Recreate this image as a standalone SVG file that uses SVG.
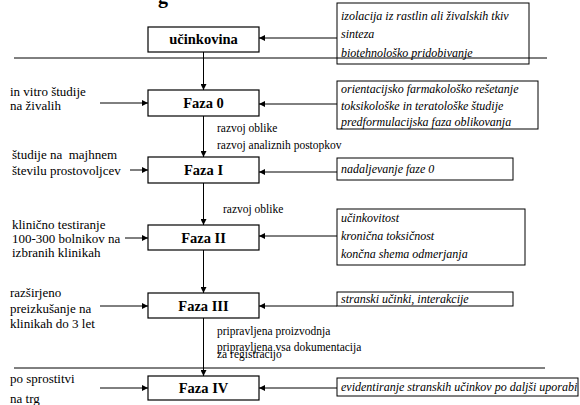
<svg xmlns="http://www.w3.org/2000/svg" width="580" height="405" viewBox="0 0 580 405">
<defs>
<marker id="ah" viewBox="0 0 8 8" refX="8" refY="4" markerWidth="6" markerHeight="6" orient="auto" markerUnits="userSpaceOnUse">
<path d="M0,0 L8,4 L0,8 z" fill="#000"/>
</marker>
</defs>
<rect width="580" height="405" fill="#fff"/>
<text x="163" y="3" font-family="Liberation Serif" font-size="20" font-weight="bold" text-anchor="middle">g</text>

<g id="connectors" stroke="#000" stroke-width="1" fill="none">
<line x1="14" y1="58" x2="547" y2="58"/>
<line x1="14" y1="368" x2="545" y2="368"/>
<g marker-end="url(#ah)">
<line x1="203.5" y1="52" x2="203.5" y2="90"/>
<line x1="203.5" y1="116" x2="203.5" y2="157"/>
<line x1="203.5" y1="183" x2="203.5" y2="225"/>
<line x1="203.5" y1="250" x2="203.5" y2="293"/>
<line x1="203.5" y1="318" x2="203.5" y2="376"/>
<line x1="337" y1="38" x2="259" y2="38"/>
<line x1="337" y1="104" x2="259" y2="104"/>
<line x1="337" y1="172" x2="259" y2="172"/>
<line x1="337" y1="236" x2="259" y2="236"/>
<line x1="337" y1="306" x2="259" y2="306"/>
<line x1="337" y1="388" x2="259" y2="388"/>
<line x1="100" y1="103" x2="148" y2="103"/>
<line x1="130" y1="170" x2="148" y2="170"/>
<line x1="125" y1="238" x2="148" y2="238"/>
<line x1="100" y1="306" x2="148" y2="306"/>
<line x1="100" y1="388" x2="148" y2="388"/>
</g>
</g>

<g id="n-ucinkovina"><rect fill="#fff" stroke="#000" stroke-width="1.2" x="148" y="27" width="111" height="25"/><text font-family="Liberation Serif" font-weight="bold" font-size="14.5" text-anchor="middle" x="203.5" y="44">učinkovina</text></g>
<g id="n-faza0"><rect fill="#fff" stroke="#000" stroke-width="1.2" x="148" y="90" width="111" height="26"/><text font-family="Liberation Serif" font-weight="bold" font-size="14.5" text-anchor="middle" x="203.5" y="108">Faza 0</text></g>
<g id="n-faza1"><rect fill="#fff" stroke="#000" stroke-width="1.2" x="148" y="157" width="111" height="26"/><text font-family="Liberation Serif" font-weight="bold" font-size="14.5" text-anchor="middle" x="203.5" y="175">Faza I</text></g>
<g id="n-faza2"><rect fill="#fff" stroke="#000" stroke-width="1.2" x="148" y="225" width="111" height="25"/><text font-family="Liberation Serif" font-weight="bold" font-size="14.5" text-anchor="middle" x="203.5" y="243">Faza II</text></g>
<g id="n-faza3"><rect fill="#fff" stroke="#000" stroke-width="1.2" x="148" y="293" width="111" height="25"/><text font-family="Liberation Serif" font-weight="bold" font-size="14.5" text-anchor="middle" x="203.5" y="311">Faza III</text></g>
<g id="n-faza4"><rect fill="#fff" stroke="#000" stroke-width="1.2" x="148" y="376" width="111" height="24"/><text font-family="Liberation Serif" font-weight="bold" font-size="14.5" text-anchor="middle" x="203.5" y="393">Faza IV</text></g>

<g id="n-note0"><rect fill="none" stroke="#000" x="337" y="3" width="192" height="61"/>
<text font-family="Liberation Serif" font-style="italic" font-size="12" x="341" y="20">izolacija iz rastlin ali živalskih tkiv</text>
<text font-family="Liberation Serif" font-style="italic" font-size="12" x="341" y="38">sinteza</text>
<text font-family="Liberation Serif" font-style="italic" font-size="12" x="341" y="57">biotehnološko pridobivanje</text></g>
<g id="n-note1"><rect fill="none" stroke="#000" x="337" y="81" width="201" height="48"/>
<text font-family="Liberation Serif" font-style="italic" font-size="12" x="341" y="93">orientacijsko farmakološko rešetanje</text>
<text font-family="Liberation Serif" font-style="italic" font-size="12" x="341" y="110">toksikološke in teratološke študije</text>
<text font-family="Liberation Serif" font-style="italic" font-size="12" x="341" y="126">predformulacijska faza oblikovanja</text></g>
<g id="n-note2"><rect fill="none" stroke="#000" x="337" y="158" width="176" height="22"/>
<text font-family="Liberation Serif" font-style="italic" font-size="12" x="341" y="173">nadaljevanje faze 0</text></g>
<g id="n-note3"><rect fill="none" stroke="#000" x="337" y="209" width="188" height="56"/>
<text font-family="Liberation Serif" font-style="italic" font-size="12" x="341" y="222">učinkovitost</text>
<text font-family="Liberation Serif" font-style="italic" font-size="12" x="341" y="240">kronična toksičnost</text>
<text font-family="Liberation Serif" font-style="italic" font-size="12" x="341" y="258">končna shema odmerjanja</text></g>
<g id="n-note4"><rect fill="none" stroke="#000" x="337" y="292" width="176" height="14"/>
<text font-family="Liberation Serif" font-style="italic" font-size="12" x="341" y="303">stranski učinki, interakcije</text></g>
<g id="n-note5"><rect fill="none" stroke="#000" x="337" y="378" width="241" height="18"/>
<text font-family="Liberation Serif" font-style="italic" font-size="12" x="341" y="391">evidentiranje stranskih učinkov po daljši uporabi</text></g>

<g id="n-left0"><text font-family="Liberation Serif" font-size="13" x="10" y="96">in vitro študije</text><text font-family="Liberation Serif" font-size="13" x="10" y="110">na živalih</text></g>
<g id="n-left1"><text font-family="Liberation Serif" font-size="13" x="12" y="159" xml:space="preserve">študije na  majhnem</text><text font-family="Liberation Serif" font-size="13" x="12" y="175">številu prostovoljcev</text></g>
<g id="n-left2"><text font-family="Liberation Serif" font-size="13" x="12" y="229">klinično testiranje</text><text font-family="Liberation Serif" font-size="13" x="12" y="243">100-300 bolnikov na</text><text font-family="Liberation Serif" font-size="13" x="12" y="257">izbranih klinikah</text></g>
<g id="n-left3"><text font-family="Liberation Serif" font-size="13" x="10" y="297">razširjeno</text><text font-family="Liberation Serif" font-size="13" x="10" y="313">preizkušanje na</text><text font-family="Liberation Serif" font-size="13" x="10" y="328">klinikah do 3 let</text></g>
<g id="n-left4"><text font-family="Liberation Serif" font-size="13" x="10" y="383">po sprostitvi</text><text font-family="Liberation Serif" font-size="13" x="10" y="403">na trg</text></g>

<g id="n-mid"><text font-family="Liberation Serif" font-size="11.5" x="217" y="132">razvoj oblike</text>
<text font-family="Liberation Serif" font-size="11.5" x="217" y="149">razvoj analiznih postopkov</text>
<text font-family="Liberation Serif" font-size="11.5" x="223" y="213">razvoj oblike</text>
<text font-family="Liberation Serif" font-size="11.5" x="217" y="335">pripravljena proizvodnja</text>
<text font-family="Liberation Serif" font-size="11.5" x="217" y="351">pripravljena vsa dokumentacija</text>
<text font-family="Liberation Serif" font-size="11.5" x="217" y="358">za registracijo</text></g>
</svg>
